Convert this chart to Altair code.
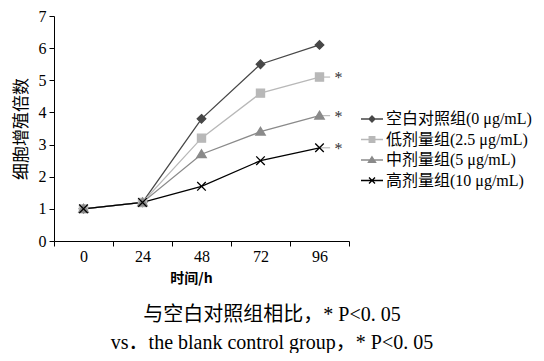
import altair as alt
import pandas as pd

times = ["0", "24", "48", "72", "96"]
groups = [
    "空白对照组(0 μg/mL)",
    "低剂量组(2.5 μg/mL)",
    "中剂量组(5 μg/mL)",
    "高剂量组(10 μg/mL)",
]
marker_keys = ["m0", "m1", "m2", "m3"]
blank = [1.0, 1.2, 3.8, 5.5, 6.1]
low = [1.0, 1.2, 3.2, 4.6, 5.1]
mid = [1.0, 1.2, 2.7, 3.4, 3.9]
high = [1.0, 1.2, 1.7, 2.5, 2.9]
stars = ["", "*", "*", "*"]
y_ticks = [0, 1, 2, 3, 4, 5, 6, 7]

series = [blank, low, mid, high]
colors = ["#474747", "#b8b8b8", "#8a8a8a", "#000000"]

point_paths = [
    "M0,-0.95L0.95,0L0,0.95L-0.95,0Z",
    "M-0.9,-0.9H0.9V0.9H-0.9Z",
    "M0,-1L1.05,0.75L-1.05,0.75Z",
    "M-0.95,-0.95L0.95,0.95M-0.95,0.95L0.95,-0.95",
]
legend_paths = [
    "M-1.1,0H1.1M0,-0.3L0.3,0L0,0.3L-0.3,0Z",
    "M-1.1,0H1.1M-0.28,-0.28H0.28V0.28H-0.28Z",
    "M-1.1,0H1.1M0,-0.32L0.36,0.24L-0.36,0.24Z",
    "M-1.1,0H1.1M-0.3,-0.3L0.3,0.3M-0.3,0.3L0.3,-0.3",
]

rows = []
for g, mk, vals in zip(groups, marker_keys, series):
    for t, v in zip(times, vals):
        rows.append({"t": t, "v": v, "g": g, "mk": mk})
df = pd.DataFrame(rows)

last = pd.DataFrame({
    "t": times[-1],
    "v": [s[-1] for s in series],
    "g": groups,
    "star": stars,
})
last = last[last["star"] != ""]

def arr(lst):
    return "[" + ",".join("'" + s + "'" for s in lst) + "]"

legend = alt.Legend(
    title=None,
    orient="none",
    legendX=307,
    legendY=92,
    labelFont="Liberation Serif, Noto Sans CJK SC",
    labelFontSize=16,
    labelColor="black",
    labelOffset=3,
    symbolSize=400,
    rowPadding=1.5,
    symbolType={"expr": arr(legend_paths) + "[datum.index]"},
    symbolFillColor={"expr": arr(colors) + "[datum.index]"},
    symbolStrokeColor={"expr": arr(colors) + "[datum.index]"},
    symbolStrokeWidth=1.3,
    symbolOpacity=1,
)

x = alt.X(
    "t:O",
    sort=times,
    bandPosition=0.5,
    scale=alt.Scale(type="band", domain=times, paddingInner=0, paddingOuter=0),
    axis=alt.Axis(
        title="时间/h",
        titleFont="Noto Sans CJK SC",
        titleFontSize=14,
        titleFontWeight="bold",
        titlePadding=7,
        titleX=137,
        labelAngle=0,
        labelFont="Liberation Serif",
        labelFontSize=16,
        labelPadding=2,
        tickBand="extent",
        tickSize=5,
    ),
)
y = alt.Y(
    "v:Q",
    scale=alt.Scale(domain=[0, 7], nice=False),
    axis=alt.Axis(
        values=y_ticks,
        title="细胞增殖倍数",
        titleFont="Noto Sans CJK SC",
        titleFontSize=17,
        titleFontWeight="normal",
        titleX=-33,
        titleY=112.5,
        titleBaseline="middle",
        labelFont="Liberation Serif",
        labelFontSize=16,
        labelPadding=3,
        tickSize=5,
    ),
)

base = alt.Chart(df)
lines = base.mark_line(strokeWidth=1.3).encode(
    x=x,
    y=y,
    color=alt.Color("g:N", sort=groups, scale=alt.Scale(domain=groups, range=colors), legend=legend),
)
points = base.mark_point(filled=True, size=81, opacity=1, strokeWidth=1.3).encode(
    x=x,
    y=y,
    fill=alt.Fill("mk:N", scale=alt.Scale(domain=marker_keys, range=colors), legend=None),
    stroke=alt.Stroke("mk:N", scale=alt.Scale(domain=marker_keys, range=colors), legend=None),
    shape=alt.Shape("mk:N", scale=alt.Scale(domain=marker_keys, range=point_paths), legend=None),
)
tails = alt.Chart(last).mark_rule(color="#bbbbbb", strokeWidth=1.2).encode(
    x=x,
    x2=alt.X2("t", bandPosition=0.68),
    y=y,
)
star_text = alt.Chart(last).mark_text(
    dx=19, dy=1, font="Liberation Serif", fontSize=16, color="#333333", baseline="middle"
).encode(x=x, y=y, text="star:N")

chart = (
    alt.layer(lines, tails, points, star_text)
    .properties(
        width=295,
        height=225,
        autosize=alt.AutoSizeParams(type="none"),
        padding={"left": 46, "top": 8, "right": 187, "bottom": 112},
        title=alt.TitleParams(
            text="与空白对照组相比，* P<0. 05",
            subtitle="vs．the blank control group，* P<0. 05",
            orient="bottom",
            anchor="middle",
            frame="bounds",
            font="Liberation Serif, Noto Sans CJK SC",
            fontSize=20,
            fontWeight="normal",
            color="black",
            subtitleFont="Liberation Serif, Noto Sans CJK SC",
            subtitleFontSize=20,
            subtitleColor="black",
            subtitlePadding=8,
            offset=20,
        ),
    )
    .configure_view(stroke=None)
    .configure_axis(grid=False, domainColor="black", tickColor="black", labelColor="black", titleColor="black")
)

chart.save("out.html", embed_options={"renderer": "svg", "actions": False})
